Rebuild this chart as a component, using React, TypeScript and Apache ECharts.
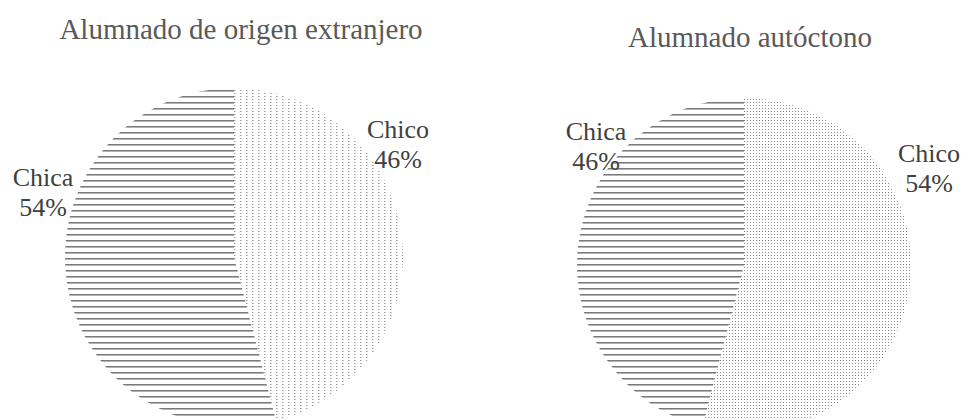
import React, { useEffect, useRef } from "react";
import * as echarts from "echarts";

const TITLES = ["Alumnado de origen extranjero", "Alumnado autóctono"];
const CATEGORIES = ["Chico", "Chica"];
const FOREIGN_VALUES = [46, 54];
const NATIVE_VALUES = [54, 46];

// layout (pixels)
const PIE_CENTERS = [
  [234, 257],
  [744, 265],
];
const PIE_RADII = [169, 167];
const TITLE_CENTERS = [236, 745];
const TITLE_TOPS = [9, 17];
// label anchor per [pie][category]
const LABEL_POS = [
  [
    [398, 144],
    [43, 192],
  ],
  [
    [929, 168],
    [596, 146],
  ],
];

function makeTile(w: number, h: number, draw: (ctx: CanvasRenderingContext2D) => void) {
  const c = document.createElement("canvas");
  c.width = w;
  c.height = h;
  const ctx = c.getContext("2d")!;
  ctx.fillStyle = "#ffffff";
  ctx.fillRect(0, 0, w, h);
  draw(ctx);
  return { image: c, repeat: "repeat", imageWidth: w, imageHeight: h } as any;
}

export default function App() {
  const ref = useRef<HTMLDivElement>(null);
  useEffect(() => {
    if (!ref.current) return;
    const chart = echarts.init(ref.current, null, { renderer: "svg" });

    const lines = makeTile(8, 6, (ctx) => {
      ctx.fillStyle = "#7a7a7a";
      ctx.fillRect(0, 0, 8, 1);
      ctx.fillStyle = "#b4b4b4";
      ctx.fillRect(0, 1, 8, 1);
    });
    const sparseDots = makeTile(6, 3, (ctx) => {
      ctx.fillStyle = "#9a9a9a";
      ctx.fillRect(0, 0, 1, 1);
      ctx.fillStyle = "#d0d0d0";
      ctx.fillRect(1, 0, 1, 1);
    });
    const denseDots = makeTile(3, 3, (ctx) => {
      ctx.fillStyle = "#8c8c8c";
      ctx.fillRect(0, 0, 1, 1);
    });

    const patterns = [
      [sparseDots, lines],
      [denseDots, lines],
    ];
    const values = [FOREIGN_VALUES, NATIVE_VALUES];

    const series = values.map((vals, si) => ({
      type: "pie",
      center: PIE_CENTERS[si],
      radius: PIE_RADII[si],
      startAngle: 90,
      clockwise: true,
      silent: true,
      data: CATEGORIES.map((name, i) => ({
        name,
        value: vals[i],
        itemStyle: { color: patterns[si][i], borderWidth: 0 },
      })),
      label: {
        show: true,
        position: "inside",
        formatter: "{b}\n{d}%",
        fontFamily: "Liberation Serif",
        fontSize: 26,
        lineHeight: 30,
        color: "#404040",
        align: "center",
        textBorderWidth: 0,
      },
      labelLine: { show: false },
      labelLayout: (p: any) => {
        const pos = LABEL_POS[si][p.dataIndex];
        return { x: pos[0], y: pos[1], align: "center", verticalAlign: "middle" };
      },
    }));

    chart.setOption({
      animation: false,
      backgroundColor: "#ffffff",
      title: TITLES.map((t, i) => ({
        text: t,
        left: TITLE_CENTERS[i],
        top: TITLE_TOPS[i],
        textAlign: "center",
        textStyle: {
          fontFamily: "Liberation Serif",
          fontSize: 29,
          fontWeight: "normal",
          color: "#595959",
        },
      })),
      series,
    } as any);
    return () => chart.dispose();
  }, []);
  return (
    <div
      ref={ref}
      style={{ position: "fixed", left: 0, top: 0, width: 965, height: 419, background: "#fff" }}
    />
  );
}
